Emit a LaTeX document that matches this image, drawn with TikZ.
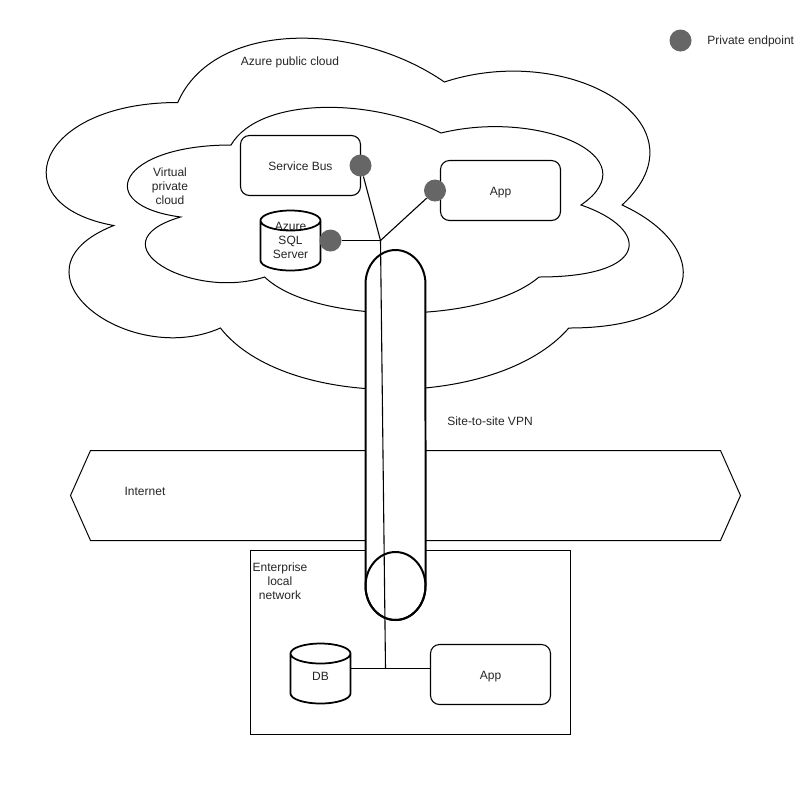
\documentclass[tikz,border=0pt]{standalone}
\usepackage{fontspec}
\setmainfont{Liberation Sans}
\usetikzlibrary{
  shapes.geometric, positioning, calc
}
\definecolor{endpointgray}{HTML}{666666}
\tikzset{
  cloudline/.style={draw=black, line width=0.02cm},
  labeltext/.style={align=center, inner sep=0pt, text=black!85},
  roundbox/.style={draw, line width=0.022cm, rounded corners=0.18cm, minimum width=2.4cm, minimum height=1.2cm, inner sep=0pt, text=black!85, text height=0.2cm, text depth=0cm},
  endpoint/.style={circle, fill=endpointgray, minimum size=0.44cm, inner sep=0pt},
  dbcan/.style={minimum width=1.2cm, minimum height=1.2cm, inner sep=0pt, outer sep=0pt, align=center, text=black!85},
  canline/.style={draw=black, line width=0.035cm},
  tubeline/.style={draw=black, line width=0.04cm},
  wire/.style={line width=0.022cm}
}
% cloud outline: left, top, width, height in pixels
\newcommand{\cloudoutline}[4]{
  \draw[cloudline, shift={(#1,#2)}, x=#3*0.02cm, y=-#4*0.02cm]
    (0.25,0.25) .. controls (0.05,0.25) and (0,0.5) .. (0.16,0.55)
    .. controls (0,0.66) and (0.18,0.9) .. (0.31,0.8)
    .. controls (0.4,1) and (0.7,1) .. (0.8,0.8)
    .. controls (1,0.8) and (1,0.6) .. (0.875,0.5)
    .. controls (1,0.3) and (0.8,0.1) .. (0.625,0.2)
    .. controls (0.5,0.05) and (0.3,0.05) .. (0.25,0.25) -- cycle;
}
% can outline around a named node
\newcommand{\canoutline}[1]{
  \draw[canline, shift={(#1.center)}] (-30,-20)
    arc[start angle=180, end angle=0, x radius=0.6cm, y radius=0.2cm]
    -- (30,20)
    arc[start angle=0, end angle=-180, x radius=0.6cm, y radius=0.2cm] -- cycle
    (-30,-20) arc[start angle=180, end angle=360, x radius=0.6cm, y radius=0.2cm];
}
\begin{document}
\begin{tikzpicture}[x=0.02cm, y=-0.02cm, font=\fontsize{6.83}{7.97}\selectfont]
  \useasboundingbox (0,0) rectangle (801,799);
  \fill[white] (0,0) rectangle (801,799);

  % clouds
  \cloudoutline{0}{0}{711}{410}
  \cloudoutline{91}{85}{560}{240}
  \node[labeltext] (publiccloud) at (290,62.5) {Azure public cloud};
  \node[labeltext] (privatecloud) at (170,186) {Virtual\\private\\cloud};

  % internet band
  \draw[cloudline] (70.5,495.5) -- (90.5,450.5) -- (720.5,450.5) -- (740.5,495.5) -- (720.5,540.5) -- (90.5,540.5) -- cycle;
  \node[labeltext] (internet) at (145,491) {Internet};

  % enterprise network
  \draw[wire] (250.5,550.5) rectangle (570.5,734.5);
  \node[labeltext] (enterprise) at (280,581) {Enterprise\\local\\network};

  % VPN tunnel
  \draw[tubeline, fill=white] (365.5,586) -- (365.5,284)
    arc[start angle=180, end angle=0, x radius=0.6cm, y radius=0.68cm]
    -- (425.5,586)
    arc[start angle=0, end angle=-180, x radius=0.6cm, y radius=0.68cm] -- cycle;
  \draw[tubeline] (395.5,586) ellipse[x radius=0.6cm, y radius=0.68cm];
  \node[labeltext] (vpnlabel) at (490,421) {Site-to-site VPN};

  % cloud services
  \node[roundbox] (servicebus) at (300.5,165.5) {Service Bus};
  \node[roundbox] (cloudapp) at (500.5,190.5) {App};
  \node[dbcan] (sqlserver) at (290.5,240.5) {Azure\\SQL\\Server};
  \canoutline{sqlserver}
  \node[endpoint] (busendpoint) at (360.5,165.5) {};
  \node[endpoint] (appendpoint) at (435,190.5) {};
  \node[endpoint] (sqlendpoint) at (330.5,240.5) {};

  % enterprise services
  \node[dbcan, text height=0.26cm, text depth=0cm] (localdb) at (320.5,673.5) {DB};
  \canoutline{localdb}
  \node[roundbox] (localapp) at (490.5,674.5) {App};

  % links
  \coordinate (cloudjoin) at (380.5,240.5);
  \coordinate (localjoin) at (385.5,668.5);
  \draw[wire] (busendpoint) -- (cloudjoin);
  \draw[wire] (sqlendpoint) -- (cloudjoin);
  \draw[wire] (appendpoint) -- (cloudjoin);
  \draw[wire] (cloudjoin) -- (localjoin);
  \draw[wire] (localdb.east |- localjoin) -- (localjoin) -- (localapp.west |- localjoin);

  % legend
  \node[endpoint] (legenddot) at (680.5,40.5) {};
  \node[labeltext, anchor=west] (legendtext) at (707,41) {Private endpoint};
\end{tikzpicture}
\end{document}
